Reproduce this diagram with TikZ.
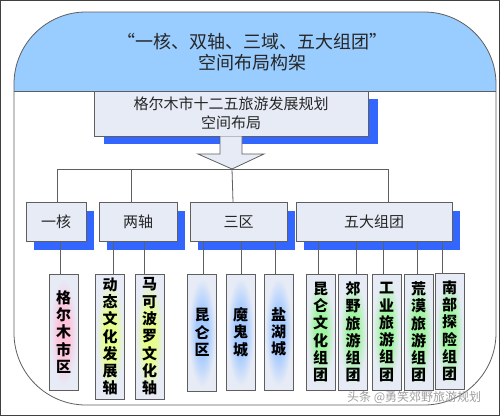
\documentclass[tikz,border=0pt]{standalone}
\usepackage{fontspec}
\setmainfont{Noto Sans CJK SC}
\usetikzlibrary{shadows}
\definecolor{headblue}{RGB}{153,204,255}
\definecolor{shblue}{RGB}{51,102,255}
\definecolor{boxfill}{RGB}{230,235,246}
\definecolor{edge}{RGB}{95,95,95}
\definecolor{gpink}{RGB}{255,196,220}
\definecolor{gyellow}{RGB}{230,255,140}
\definecolor{gblue}{RGB}{165,202,255}
\definecolor{ggreen}{RGB}{160,245,160}
\pgfdeclareradialshading{glowpink}{\pgfpoint{0bp}{0bp}}{color(0bp)=(gpink); color(10bp)=(gpink); color(23bp)=(boxfill); color(50bp)=(boxfill)}
\pgfdeclareradialshading{glowyellow}{\pgfpoint{0bp}{0bp}}{color(0bp)=(gyellow); color(10bp)=(gyellow); color(23bp)=(boxfill); color(50bp)=(boxfill)}
\pgfdeclareradialshading{glowblue}{\pgfpoint{0bp}{0bp}}{color(0bp)=(gblue); color(10bp)=(gblue); color(23bp)=(boxfill); color(50bp)=(boxfill)}
\pgfdeclareradialshading{glowgreen}{\pgfpoint{0bp}{0bp}}{color(0bp)=(ggreen); color(10bp)=(ggreen); color(23bp)=(boxfill); color(50bp)=(boxfill)}
\begin{document}
\begin{tikzpicture}[x=1pt,y=-1pt,
  bx/.style={draw=edge, line width=0.8pt, fill=boxfill, inner sep=0pt, outer sep=0pt, text=black!85},
  catbox/.style={bx, minimum height=39pt, font=\fontsize{15}{17}\selectfont,
    drop shadow={shadow xshift=8pt, shadow yshift=-9pt, fill=shblue, opacity=1}},
  leaf/.style={draw=edge, line width=0.8pt, inner sep=0pt, outer sep=0pt, minimum width=29pt,
    align=center, text=black, font=\bfseries\fontsize{15}{17.3}\selectfont,
    shade, shading=glow#1},
  conn/.style={draw=edge, line width=0.8pt}]
\useasboundingbox (0,0) rectangle (500,416);
\fill[white] (0,0) rectangle (500,416);
% container
\begin{scope}
  \clip[rounded corners=72pt] (14,12) rectangle (496,405);
  \fill[headblue] (14,12) rectangle (496,91);
\end{scope}
\draw[edge, line width=0.8pt, rounded corners=72pt] (14,12) rectangle (496,405);
\draw[edge, line width=0.8pt] (14,91) -- (496,91);
\node[font=\fontsize{18}{21}\selectfont, align=center, text=black!85] (title) at (252,52.5)
  {“一核、双轴、三域、五大组团”\\空间布局构架};
% main box
\node[bx, minimum width=274pt, minimum height=45pt, align=center, font=\fontsize{15}{19}\selectfont,
  drop shadow={shadow xshift=10pt, shadow yshift=-8pt, fill=shblue, opacity=1}] (plan) at (231,113.5)
  {格尔木市十二五旅游发展规划\\空间布局};
% block arrow
\coordinate (tip) at (232,169);
\filldraw[draw=edge, fill=boxfill, line width=0.8pt]
  (220,136.4) -- (220,154) -- (198,154) -- (tip) -- (264,154) -- (242,154) -- (242,136.4);
% categories
\node[catbox, minimum width=60pt] (c1) at (56,221.5) {一核};
\node[catbox, minimum width=78pt] (c2) at (138,221.5) {两轴};
\node[catbox, minimum width=97pt] (c3) at (238.5,221.5) {三区};
\node[catbox, minimum width=156pt] (c4) at (374,221.5) {五大组团};
% bus
\draw[conn] ([xshift=1pt]c1.north) -- ++(0,-33) -| ([xshift=14pt]c4.north);
\draw[conn] ([xshift=-7pt]c2.north) -- ++(0,-33);
\draw[conn] ([xshift=-5.5pt]c3.north) -- (tip);
% leaves
\node[leaf=pink, minimum height=116pt] (l1) at (63.5,332) {格\\尔\\木\\市\\区};
\node[leaf=yellow, minimum height=125pt] (l2) at (110,336.5) {动\\态\\文\\化\\发\\展\\轴};
\node[leaf=yellow, minimum height=125pt] (l3) at (149.5,336.5) {马\\可\\波\\罗\\文\\化\\轴};
\node[leaf=blue, minimum height=117pt] (l4) at (202,332.5) {昆\\仑\\区};
\node[leaf=blue, minimum height=116pt] (l5) at (240.5,332) {魔\\鬼\\城};
\node[leaf=blue, minimum height=116pt] (l6) at (278.5,332) {盐\\湖\\城};
\node[leaf=green, minimum height=116pt] (l7) at (320.5,332) {昆\\仑\\文\\化\\组\\团};
\node[leaf=green, minimum height=116pt] (l8) at (353,332) {郊\\野\\旅\\游\\组\\团};
\node[leaf=green, minimum height=116pt] (l9) at (386.5,332) {工\\业\\旅\\游\\组\\团};
\node[leaf=green, minimum height=116pt] (l10) at (418.5,332) {荒\\漠\\旅\\游\\组\\团};
\node[leaf=green, minimum height=116pt] (l11) at (449.5,331) {南\\部\\探\\险\\组\\团};
% leaf connectors
\draw[conn] ([xshift=-3.5pt]l1.north) -- ([xshift=-3.5pt]l1.north |- c1.south);
\draw[conn] ([xshift=3pt]l2.north) -- ([xshift=3pt]l2.north |- c2.south);
\draw[conn] ([xshift=-5.5pt]l3.north) -- ([xshift=-5.5pt]l3.north |- c2.south);
\draw[conn] ([xshift=1pt]l4.north) -- ([xshift=1pt]l4.north |- c3.south);
\draw[conn] ([xshift=0.5pt]l5.north) -- ([xshift=0.5pt]l5.north |- c3.south);
\draw[conn] ([xshift=-3.5pt]l6.north) -- ([xshift=-3.5pt]l6.north |- c3.south);
\draw[conn] ([xshift=-2.5pt]l7.north) -- ([xshift=-2.5pt]l7.north |- c4.south);
\draw[conn] ([xshift=3pt]l8.north) -- ([xshift=3pt]l8.north |- c4.south);
\draw[conn] ([xshift=-3.5pt]l9.north) -- ([xshift=-3.5pt]l9.north |- c4.south);
\draw[conn] ([xshift=-1.5pt]l10.north) -- ([xshift=-1.5pt]l10.north |- c4.south);
\draw[conn] ([xshift=-7.5pt]l11.north) -- ([xshift=-7.5pt]l11.north |- c4.south);
% watermark
\node[anchor=west, text=gray!75, font=\fontsize{12}{12}\selectfont, inner sep=0pt] (wm) at (347,397)
  {头条 @勇笑郊野旅游规划};
% outer frame
\draw[black!75, line width=1.2pt] (0.6,0.6) rectangle (499.4,415.4);
\end{tikzpicture}
\end{document}
